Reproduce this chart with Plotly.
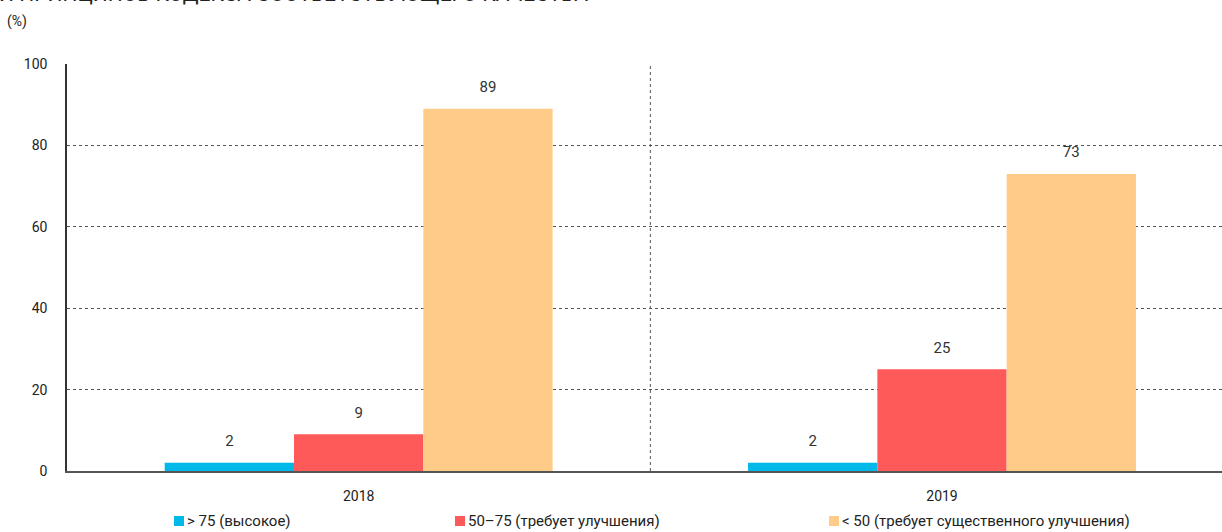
import plotly.graph_objects as go

categories = ["2018", "2019"]
series_names = ["> 75 (высокое)", "50–75 (требует улучшения)", "< 50 (требует существенного улучшения)"]
high = [2, 2]
needs_improvement = [9, 25]
needs_major = [89, 73]
y_ticks = [0, 20, 40, 60, 80, 100]
title_text = "И ПРИНЦИПОВ КОДЕКСА СООТВЕТСТВУЮЩЕГО КАЧЕСТВА"
unit_text = "(%)"

colors = ["#00B9E8", "#FF5A5A", "#FFCB88"]
FONT = "Roboto, 'Liberation Sans', sans-serif"

W, H = 1222, 532
L, R, T, B = 67, 0, 64, 61
pw, ph = W - L - R, H - T - B

def px_x(p):
    return (p - L) / pw

def px_y(p):
    return (H - B - p) / ph

fig = go.Figure()
series = [high, needs_improvement, needs_major]
for name, vals, col in zip(series_names, series, colors):
    fig.add_trace(go.Bar(
        x=categories, y=vals, name=name, marker=dict(color=col, line=dict(width=0)),
        text=[str(v) for v in vals],
        texttemplate="<span style='font-size:15px'>%{text}</span><br> ",
        textposition="outside", cliponaxis=False,
        textfont=dict(size=9, color="#333333", family=FONT),
        showlegend=False,
    ))

fig.update_layout(
    width=W, height=H,
    margin=dict(l=L, r=R, t=T, b=B, pad=0, autoexpand=False),
    paper_bgcolor="white", plot_bgcolor="white",
    font=dict(family=FONT, size=14, color="#333333"),
    barmode="group", bargap=0.335, bargroupgap=0,
    showlegend=False,
    xaxis=dict(type="category", range=[-0.5, 1.48], showgrid=False,
               showline=True, linecolor="#555555", linewidth=2,
               ticks="", ticklabelstandoff=11,
               tickfont=dict(size=14, color="#222222", family=FONT)),
    yaxis=dict(range=[0, 100], tickvals=y_ticks, showgrid=True,
               gridcolor="#555555", gridwidth=1, griddash="dot",
               showline=True, linecolor="#333333", linewidth=1.5,
               zeroline=False, ticks="", ticklabelstandoff=15,
               tickfont=dict(size=14, color="#222222", family=FONT)),
)

# vertical divider between categories
fig.add_shape(type="line", xref="x", yref="paper", x0=0.5, x1=0.5, y0=0, y1=1,
              line=dict(color="#555555", width=1, dash="dot"), layer="below")

# custom legend (square swatch + text), positioned like the reference
legend_left_px = [174, 455, 829]
sq = 10
leg_cy = 521
for name, col, lx in zip(series_names, colors, legend_left_px):
    fig.add_shape(type="rect", xref="paper", yref="paper",
                  x0=px_x(lx), x1=px_x(lx + sq), y0=px_y(leg_cy + sq / 2), y1=px_y(leg_cy - sq / 2),
                  fillcolor=col, line=dict(width=0))
    fig.add_annotation(text=name, xref="paper", yref="paper", x=px_x(lx + sq + 1), y=px_y(leg_cy),
                       xanchor="left", yanchor="middle", showarrow=False,
                       font=dict(size=15, color="#222222", family=FONT))

fig.add_annotation(text=title_text, xref="paper", yref="paper", x=px_x(-3), y=px_y(8),
                   xanchor="left", yanchor="bottom", showarrow=False,
                   font=dict(size=21, color="#222222", family=FONT))
fig.add_annotation(text=unit_text, xref="paper", yref="paper", x=px_x(5), y=px_y(22),
                   xanchor="left", yanchor="middle", showarrow=False,
                   font=dict(size=14, color="#222222", family=FONT))

fig.write_html("out.html")
